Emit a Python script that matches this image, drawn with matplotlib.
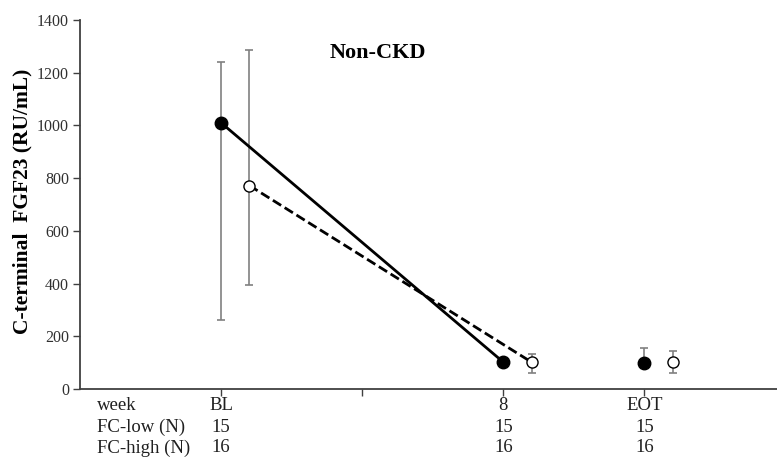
import matplotlib
matplotlib.use("Agg")
import matplotlib.pyplot as plt
import matplotlib.transforms as mtransforms
import numpy as np

plt.rcParams["font.family"] = ["Liberation Serif", "DejaVu Serif"]

# ── data ────────────────────────────────────────────────────────────────────
visits      = ["BL", "8", "EOT"]
visit_pos   = [1, 3, 4]
n_low       = [15, 15, 15]
n_high      = [16, 16, 16]

low_mean    = [1010, 102, 99]
low_err_lo  = [750, 0, 0]
low_err_hi  = [230, 0, 56]

high_mean   = [772, 102, 102]
high_err_lo = [378, 40, 40]
high_err_hi = [515, 32, 42]

offset = 0.2

fig = plt.figure(figsize=(7.77, 4.59), dpi=100)
ax = fig.add_axes([0.103, 0.1525, 0.897, 0.8039])

x_low = np.array(visit_pos, dtype=float)
x_high = x_low + offset

# error bars (grey, thin)
ax.errorbar(x_low, low_mean, yerr=[low_err_lo, low_err_hi], fmt="none",
            ecolor="#808080", elinewidth=1.2, capsize=3, capthick=1.2, zorder=1)
ax.errorbar(x_high, high_mean, yerr=[high_err_lo, high_err_hi], fmt="none",
            ecolor="#808080", elinewidth=1.2, capsize=3, capthick=1.2, zorder=1)

# connecting lines BL -> week 8 only
ax.plot(x_low[:2], low_mean[:2], "-", color="black", lw=2, zorder=2)
ax.plot(x_high[:2], high_mean[:2], "--", color="black", lw=2, dashes=(3.5, 1.5), zorder=2)

ax.plot(x_low, low_mean, "o", ls="none", color="black", ms=9, zorder=3)
ax.plot(x_high, high_mean, "o", ls="none", mfc="white", mec="black",
        mew=1.0, ms=8, zorder=3)

ax.set_ylim(0, 1400)
ax.set_yticks(np.arange(0, 1401, 200))
ax.set_xlim(0, 4.94)
ax.set_xticks([1, 2, 3, 4])
ax.set_xticklabels([])

for s in ["top", "right"]:
    ax.spines[s].set_visible(False)
for s in ["left", "bottom"]:
    ax.spines[s].set_color("#404040")
    ax.spines[s].set_linewidth(1.3)
ax.tick_params(axis="y", direction="out", length=5, width=1, colors="#404040",
               labelsize=11.5, labelcolor="#303030", pad=3)
ax.tick_params(axis="x", direction="out", length=5, width=1, colors="#404040")

ax.set_ylabel("C-terminal  FGF23 (RU/mL)", fontsize=15.5, fontweight="bold")
ax.yaxis.set_label_coords(-0.068, 0.51)

fig.text(378 / 777, 1 - 53 / 459, "Non-CKD", fontsize=16, fontweight="bold",
         ha="center", va="center")

# table of counts under the x axis
trans = mtransforms.blended_transform_factory(ax.transData, fig.transFigure)
row_y = [1 - 405 / 459, 1 - 427 / 459, 1 - 448 / 459]
row_names = ["week", "FC-low (N)", "FC-high (N)"]
rows = [visits, [str(v) for v in n_low], [str(v) for v in n_high]]
for y, name, vals in zip(row_y, row_names, rows):
    fig.text(97 / 777, y, name, fontsize=13.5, ha="left", va="center", color="#202020")
    for xp, v in zip(visit_pos, vals):
        ax.text(xp, y, v, transform=trans, fontsize=13.5, ha="center", va="center",
                color="#202020")

fig.savefig("out.png", dpi=100)
